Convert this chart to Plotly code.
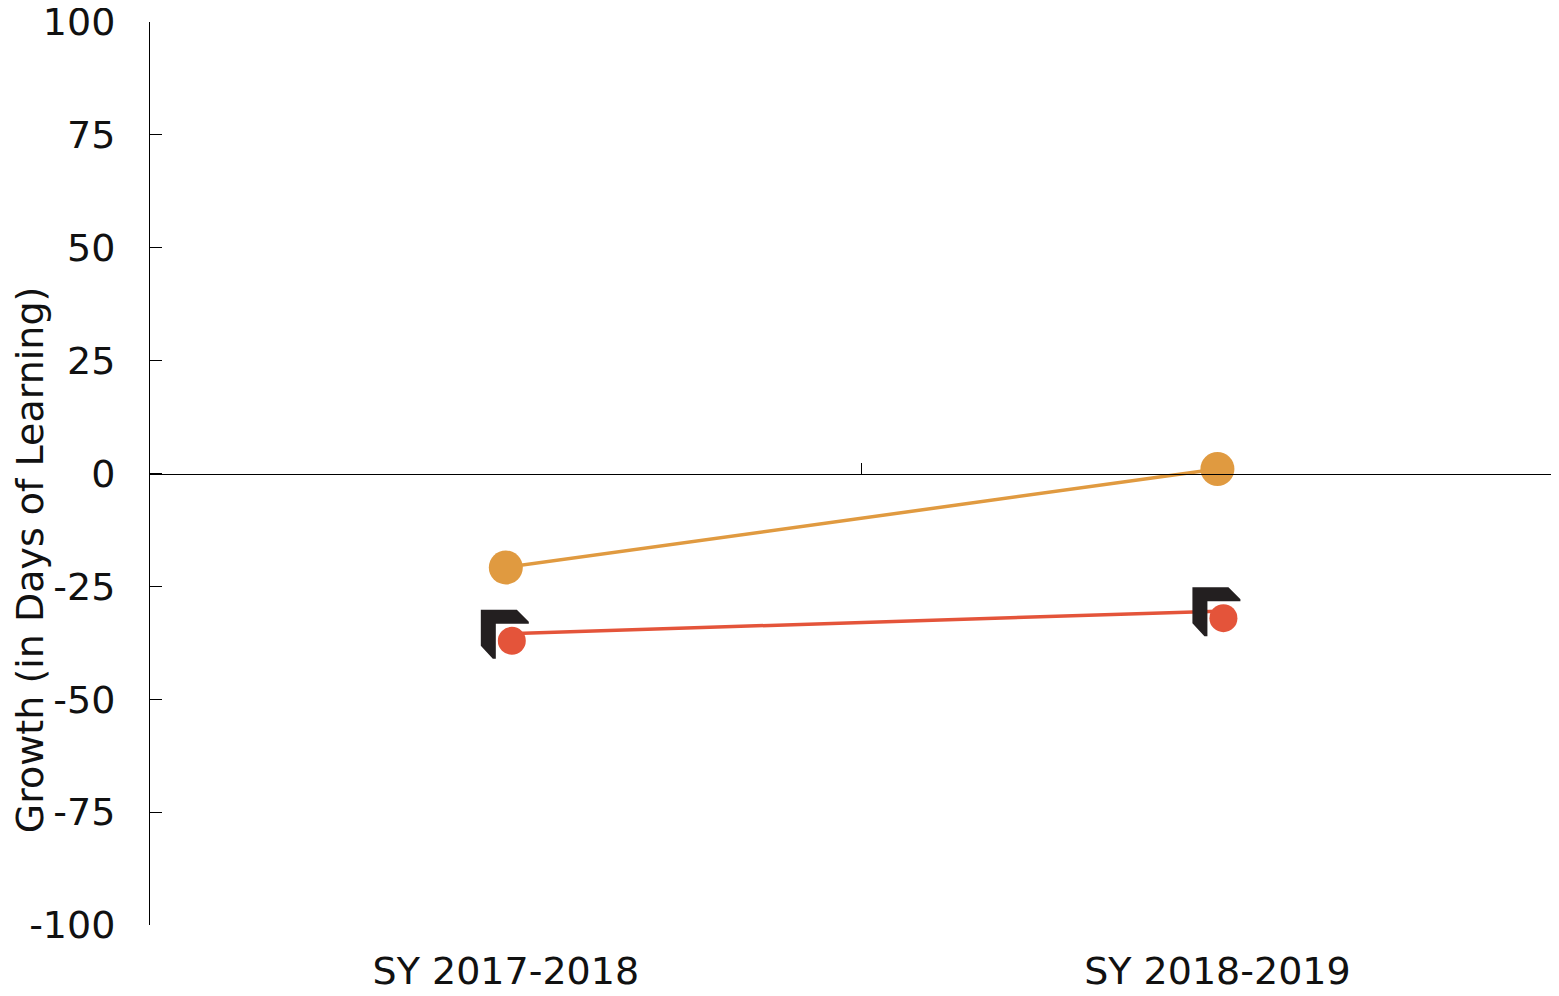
import plotly.graph_objects as go

years = ["SY 2017-2018", "SY 2018-2019"]
orange_vals = [-20.8, 1.0]
red_vals = [-35.5, -30.5]
y_ticks = [-100, -75, -50, -25, 0, 25, 50, 75, 100]
y_labels = ["-100", "-75", "-50", "-25", "0", "25", "50", "75", "100"]

ORANGE = "#E09A40"
RED = "#E4543A"
ICON = "#231F20"
FONT = "Verdana, DejaVu Sans, sans-serif"
FS = 38

fig = go.Figure()

fig.add_trace(go.Scatter(
    x=years, y=orange_vals, mode="lines+markers",
    line=dict(color=ORANGE, width=3.5),
    marker=dict(color=ORANGE, size=34),
    showlegend=False, hoverinfo="skip",
))

fig.add_trace(go.Scatter(
    x=years, y=red_vals, mode="lines",
    line=dict(color=RED, width=3.5),
    showlegend=False, hoverinfo="skip",
))

# пустой след, чтобы ось на нуле отрисовалась
fig.add_trace(go.Scatter(
    x=years, y=[None, None], xaxis="x2", mode="lines",
    showlegend=False, hoverinfo="skip",
))

# значок-уголок и красная точка, привязанные к точкам данных
icon_path = "M-25,24 L11,24 L23,12 L23,10 L-10,10 L-10,-25 L-13,-25 L-25,-12 Z"
for cat, val in zip(years, red_vals):
    fig.add_shape(
        type="path", path=icon_path,
        xref="x", yref="y", xsizemode="pixel", ysizemode="pixel",
        xanchor=cat, yanchor=val,
        fillcolor=ICON, line=dict(width=0), layer="above",
    )
    fig.add_shape(
        type="circle",
        xref="x", yref="y", xsizemode="pixel", ysizemode="pixel",
        xanchor=cat, yanchor=val,
        x0=-8, x1=20, y0=-21, y1=7,
        fillcolor=RED, line=dict(width=0), layer="above",
    )

fig.add_annotation(
    text="Growth (in Days of Learning)", textangle=-90,
    xref="paper", yref="paper", x=-0.0852, y=0.405,
    xanchor="center", yanchor="middle", showarrow=False,
    font=dict(family=FONT, size=FS, color="#111"),
)

# страница добавляет отступ 8px, поэтому холст чуть меньше окна
fig.update_layout(
    width=1551, height=988,
    plot_bgcolor="#ffffff", paper_bgcolor="#ffffff",
    margin=dict(l=142, r=0, t=14, b=71),
    font=dict(family=FONT, size=FS, color="#111"),
    xaxis=dict(
        type="category", categoryorder="array", categoryarray=years,
        range=[-0.5, 1.48], showline=False, showgrid=False, zeroline=False,
        ticks="", ticklabelstandoff=20, automargin=False,
        ticklabeloverflow="allow",
        tickfont=dict(size=FS, color="#111"),
    ),
    xaxis2=dict(
        type="category", categoryorder="array", categoryarray=years,
        overlaying="x", anchor="free", position=0.5,
        range=[-0.5, 1.48], showline=True, linecolor="#000", linewidth=1,
        showgrid=False, zeroline=False, showticklabels=False,
        ticks="inside", tickson="boundaries", ticklen=11,
        tickcolor="#000", tickwidth=1, automargin=False,
    ),
    yaxis=dict(
        range=[-100, 100], tickvals=y_ticks, ticktext=y_labels,
        showline=True, linecolor="#000", linewidth=1,
        showgrid=False, zeroline=False,
        ticks="inside", ticklen=12, tickcolor="#000", tickwidth=1,
        ticklabelstandoff=26, automargin=False,
        ticklabeloverflow="allow",
        tickfont=dict(size=FS, color="#111"),
    ),
)

fig.write_html("out.html")
